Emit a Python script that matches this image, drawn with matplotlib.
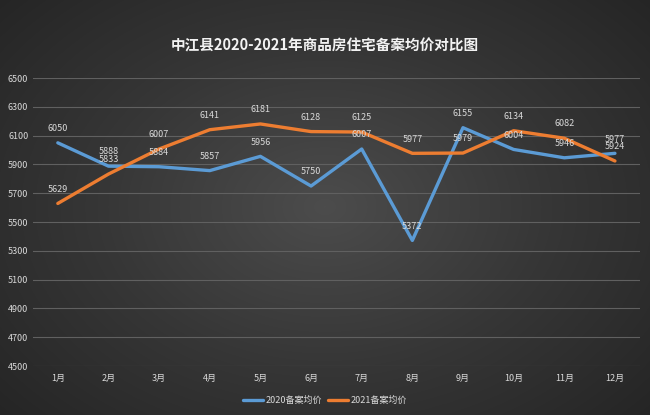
import numpy as np
import matplotlib
matplotlib.use("Agg")
import matplotlib.pyplot as plt

plt.rcParams['font.family'] = ['Noto Sans CJK SC', 'DejaVu Sans']

months = ["1月", "2月", "3月", "4月", "5月", "6月", "7月", "8月", "9月", "10月", "11月", "12月"]
price_2020 = [6050, 5888, 5884, 5857, 5956, 5750, 6007, 5372, 6155, 6004, 5946, 5977]
price_2021 = [5629, 5833, 6007, 6141, 6181, 6128, 6125, 5977, 5979, 6134, 6082, 5924]
y_ticks = [4500, 4700, 4900, 5100, 5300, 5500, 5700, 5900, 6100, 6300, 6500]

title = "中江县2020-2021年商品房住宅备案均价对比图"
labels = ["2020备案均价", "2021备案均价"]
colors = ["#5B9BD5", "#ED7D31"]

fig = plt.figure(figsize=(6.5, 4.15), dpi=100)

# dark radial background
bg = fig.add_axes([0, 0, 1, 1])
yy, xx = np.mgrid[-1:1:415j, -1:1:650j]
r = np.sqrt(xx ** 2 + (yy * 0.9) ** 2)
bg.imshow(r, cmap=matplotlib.colors.LinearSegmentedColormap.from_list(
    "bg", ["#4c4c4c", "#363636", "#242424"]), aspect="auto", vmin=0, vmax=1.4)
bg.axis("off")

ax = fig.add_axes([0.05, 0.118, 0.935, 0.694])
ax.set_facecolor("none")
x = np.arange(len(months))

for vals, lab, col in zip([price_2020, price_2021], labels, colors):
    ax.plot(x, vals, color=col, linewidth=2.4, label=lab, solid_capstyle="round")
    for xi, v in zip(x, vals):
        ax.annotate(str(v), (xi, v), xytext=(0, 7), textcoords="offset points",
                    ha="center", va="bottom", fontsize=6.5, color="#d9d9d9")

ax.set_xlim(-0.5, len(months) - 0.5)
ax.set_ylim(4500, 6500)
ax.set_yticks(y_ticks)
ax.set_xticks(x)
ax.set_xticklabels(months)
ax.grid(axis="y", color="#606060", linewidth=0.8)
ax.set_axisbelow(True)
for s in ax.spines.values():
    s.set_visible(False)
ax.tick_params(length=0, colors="#d9d9d9", labelsize=6.5)
ax.tick_params(axis="y", pad=3)
ax.tick_params(axis="x", pad=6)

fig.text(0.5, 0.89, title, fontsize=10.5, fontweight="bold", color="#f2f2f2",
         ha="center", va="center")

fig.legend(loc="center", bbox_to_anchor=(0.5, 0.035), ncol=2, frameon=False,
           fontsize=6.5, labelcolor="#d9d9d9", handlelength=2.2, columnspacing=0.6,
           handletextpad=0.3)

fig.savefig("out.png", dpi=100)
